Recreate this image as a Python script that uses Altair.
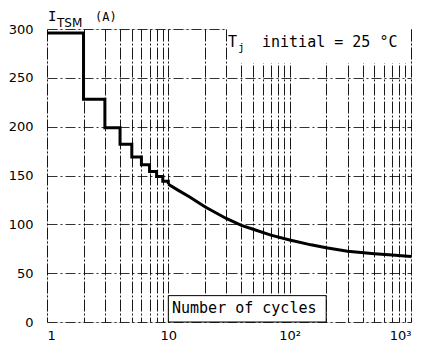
import altair as alt
import pandas as pd

# Step part (integer cycles 1..10)
step_cycles = [1, 2, 3, 4, 5, 6, 7, 8, 9, 10]
step_current = [296, 228, 199, 182, 169, 161, 154, 149, 144, 141]

# Smooth part (10 .. 1000 cycles)
curve_cycles = [10, 12, 15, 20, 30, 40, 50, 70, 100, 150, 200, 300, 500, 700, 1000]
curve_current = [141, 135, 128, 118, 106, 99, 95, 89, 84, 79, 76, 72.5, 70, 68.5, 67]

# Grid / tick values
x_ticks = [m * d for d in (1, 10, 100) for m in range(1, 10)] + [1000]
y_ticks = list(range(0, 301, 25))

FONT = "DejaVu Sans"
MONO = "DejaVu Sans Mono"

x_scale = alt.Scale(type="log", domain=[1, 1000], nice=False)
y_scale = alt.Scale(domain=[0, 300], nice=False)

x_axis = alt.Axis(
    values=x_ticks,
    labelExpr="datum.value == 1 ? '1' : datum.value == 10 ? '10' : datum.value == 100 ? '10²' : datum.value == 1000 ? '10³' : ''",
    labelOverlap=False,
    grid=True, gridColor="black", gridDash=[12, 2, 2, 2], gridWidth=1, gridOpacity=0.9,
    ticks=False, domain=False,
    labelFont=FONT, labelFontSize=13, labelColor="black", labelPadding=7,
    title=None,
)
y_axis = alt.Axis(
    values=y_ticks,
    labelExpr="datum.value % 50 == 0 ? datum.label : ''",
    labelOverlap=False,
    grid=True, gridColor="black", gridDash=[10, 3, 2, 3], gridWidth=1, gridOpacity=0.8,
    ticks=False, domain=False,
    labelFont=FONT, labelFontSize=13, labelColor="black", labelPadding=14,
    title=None,
)

step_df = pd.DataFrame({"n": step_cycles, "i": step_current})
curve_df = pd.DataFrame({"n": curve_cycles, "i": curve_current})

base_step = alt.Chart(step_df).mark_line(
    interpolate="step-after", color="black", strokeWidth=3
).encode(
    x=alt.X("n:Q", scale=x_scale, axis=x_axis),
    y=alt.Y("i:Q", scale=y_scale, axis=y_axis),
)

curve = alt.Chart(curve_df).mark_line(color="black", strokeWidth=3).encode(
    x=alt.X("n:Q", scale=x_scale),
    y=alt.Y("i:Q", scale=y_scale),
)

box_df = pd.DataFrame({
    "x1": [30.5, 10], "x2": [1000, 200],
    "y1": [265, 0], "y2": [300, 27],
})
tj_box = alt.Chart(box_df.iloc[[0]]).mark_rect(color="white").encode(
    x=alt.X("x1:Q", scale=x_scale), x2="x2:Q",
    y=alt.Y("y1:Q", scale=y_scale), y2="y2:Q",
)
n_box = alt.Chart(box_df.iloc[[1]]).mark_rect(color="white", stroke="black", strokeWidth=1).encode(
    x=alt.X("x1:Q", scale=x_scale), x2="x2:Q",
    y=alt.Y("y1:Q", scale=y_scale), y2="y2:Q",
)

def txt(text, x, y, size, font=MONO, align="left"):
    return alt.Chart(pd.DataFrame({"t": [text]})).mark_text(
        align=align, baseline="middle", font=font, fontSize=size, color="black"
    ).encode(x=alt.value(x), y=alt.value(y), text="t:N")

labels = [
    txt("I", 1, -12, 14),
    txt("TSM", 10, -6, 12, font=FONT),
    txt("(A)", 48, -12, 12),
    txt("T", 181, 13, 15),
    txt("j", 191, 19, 11),
    txt("initial = 25 °C", 215, 13, 15),
    txt("Number of cycles", 125, 279, 15),
]

chart = alt.layer(base_step, curve, tj_box, n_box, *labels).properties(
    width=364, height=293,
    autosize=alt.AutoSizeParams(type="none"),
    padding={"left": 39, "top": 21, "right": 10, "bottom": 24},
).configure_view(stroke="black", strokeWidth=2).configure(background="white")

chart.save("out.html", embed_options={"renderer": "svg", "actions": False})
